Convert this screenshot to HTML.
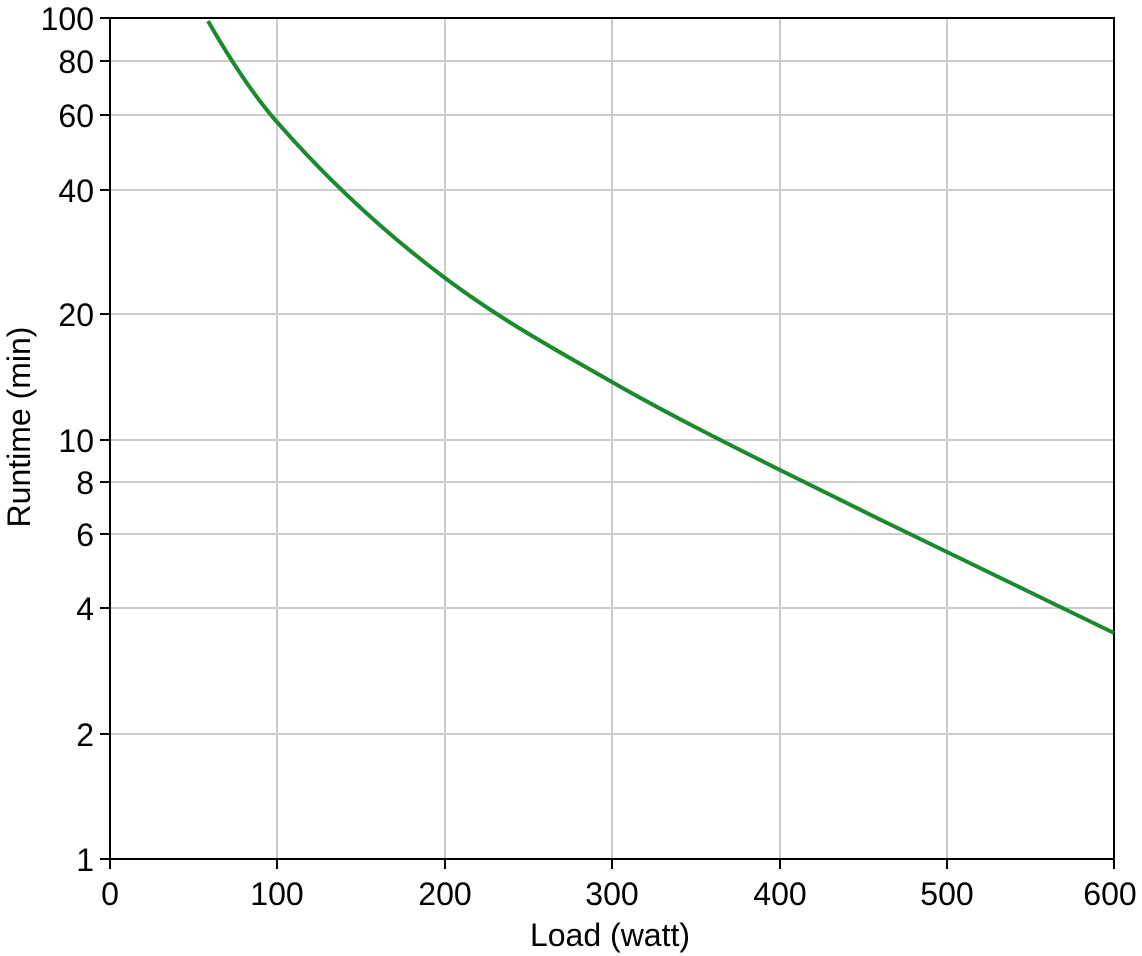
<!DOCTYPE html>
<html><head><meta charset="utf-8"><style>
html,body{margin:0;padding:0;background:#fff;}
svg{display:block;font-family:"Liberation Sans",Arial,sans-serif;}
</style></head><body>
<svg width="1142" height="956" viewBox="0 0 1142 956" xmlns="http://www.w3.org/2000/svg">
<g stroke="#cccccc" stroke-width="2">
<line x1="277" y1="18" x2="277" y2="859"/>
<line x1="445" y1="18" x2="445" y2="859"/>
<line x1="612" y1="18" x2="612" y2="859"/>
<line x1="780" y1="18" x2="780" y2="859"/>
<line x1="947" y1="18" x2="947" y2="859"/>
<line x1="110" y1="61" x2="1114" y2="61"/>
<line x1="110" y1="115" x2="1114" y2="115"/>
<line x1="110" y1="190" x2="1114" y2="190"/>
<line x1="110" y1="314" x2="1114" y2="314"/>
<line x1="110" y1="440" x2="1114" y2="440"/>
<line x1="110" y1="482" x2="1114" y2="482"/>
<line x1="110" y1="534" x2="1114" y2="534"/>
<line x1="110" y1="608" x2="1114" y2="608"/>
<line x1="110" y1="734" x2="1114" y2="734"/>
</g>
<rect x="110" y="18" width="1004" height="841" fill="none" stroke="#000" stroke-width="2"/>
<g stroke="#000" stroke-width="2">
<line x1="100" y1="18" x2="110" y2="18"/><line x1="100" y1="61" x2="110" y2="61"/>
<line x1="100" y1="115" x2="110" y2="115"/><line x1="100" y1="190" x2="110" y2="190"/>
<line x1="100" y1="314" x2="110" y2="314"/><line x1="100" y1="440" x2="110" y2="440"/>
<line x1="100" y1="482" x2="110" y2="482"/><line x1="100" y1="534" x2="110" y2="534"/>
<line x1="100" y1="608" x2="110" y2="608"/><line x1="100" y1="734" x2="110" y2="734"/>
<line x1="100" y1="859" x2="110" y2="859"/>
<line x1="110" y1="859" x2="110" y2="869"/><line x1="277" y1="859" x2="277" y2="869"/>
<line x1="445" y1="859" x2="445" y2="869"/><line x1="612" y1="859" x2="612" y2="869"/>
<line x1="780" y1="859" x2="780" y2="869"/><line x1="947" y1="859" x2="947" y2="869"/>
<line x1="1114" y1="859" x2="1114" y2="869"/>
</g>
<g font-size="32" fill="#000" text-anchor="end">
<text x="94" y="30">100</text><text x="94" y="73">80</text><text x="94" y="127">60</text>
<text x="94" y="202">40</text><text x="94" y="326">20</text><text x="94" y="452">10</text>
<text x="94" y="494">8</text><text x="94" y="546">6</text><text x="94" y="620">4</text>
<text x="94" y="746">2</text><text x="94" y="871">1</text>
</g>
<g font-size="32" fill="#000" text-anchor="middle">
<text x="110" y="905">0</text><text x="277" y="905">100</text><text x="445" y="905">200</text>
<text x="612" y="905">300</text><text x="780" y="905">400</text><text x="947" y="905">500</text>
<text x="1110" y="905">600</text>
<text x="610" y="946">Load (watt)</text>
<text transform="translate(30,427) rotate(-90)">Runtime (min)</text>
</g>
<path d="M208,21 C231,61 254,96 277,122 C333,186 389,236 445,278 C501,320 556,350 612,382 C668,414 724,442 780,470 C836,498 891,525 947,552 C1003,579 1058,606 1114,633" fill="none" stroke="#1a8a2e" stroke-width="4"/>
</svg>
</body></html>
